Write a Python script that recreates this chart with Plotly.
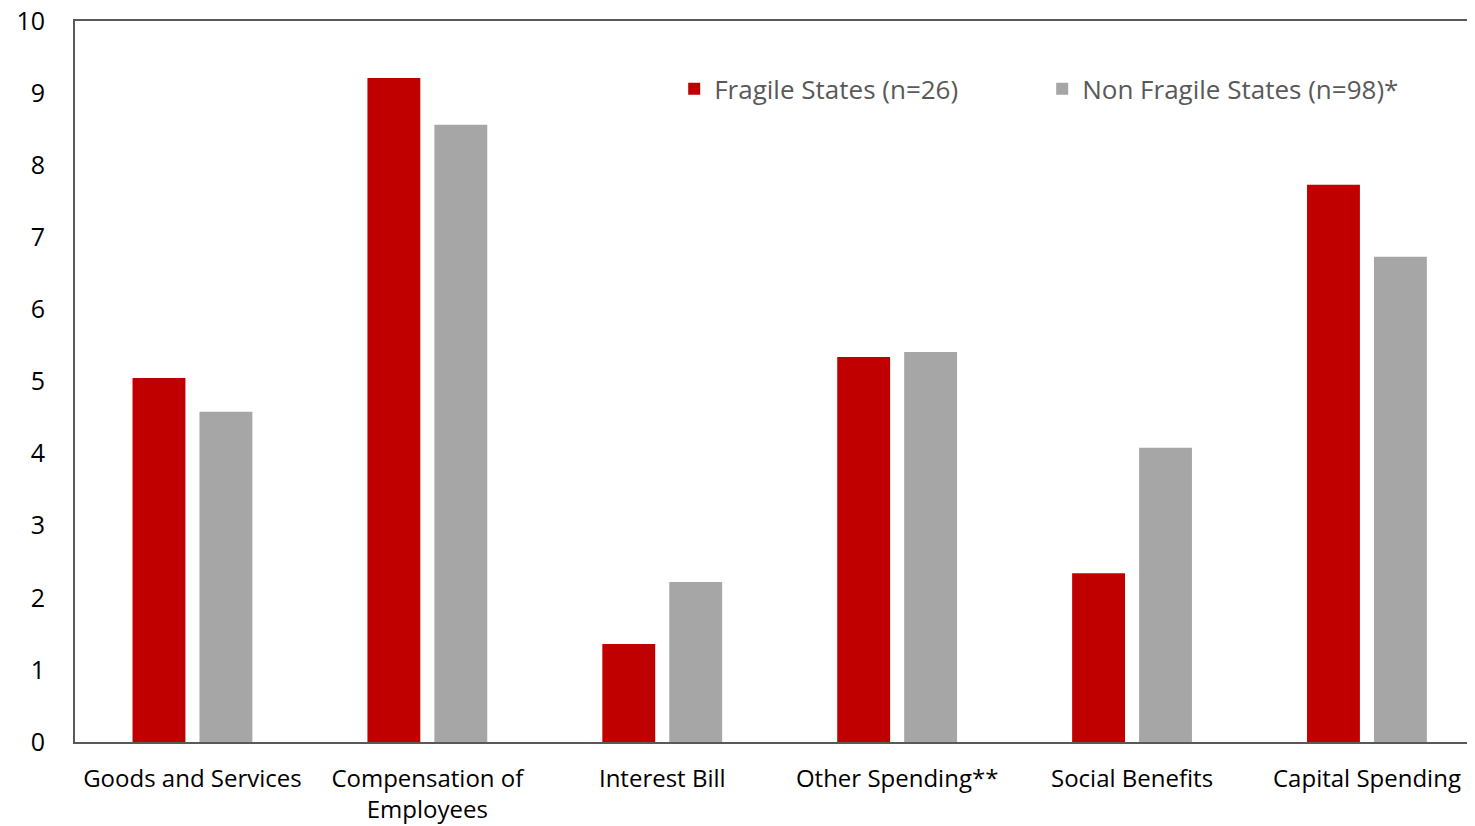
import plotly.graph_objects as go

categories = ["Goods and Services", "Compensation of<br>Employees", "Interest Bill",
              "Other Spending**", "Social Benefits", "Capital Spending"]
fragile = [5.05, 9.21, 1.36, 5.34, 2.34, 7.73]
non_fragile = [4.58, 8.56, 2.22, 5.41, 4.08, 6.73]
y_ticks = list(range(0, 11))

FONT = "Open Sans"

fig = go.Figure()
fig.add_trace(go.Bar(x=categories, y=fragile, name="Fragile States (n=26)",
                     marker=dict(color="#C00000", line=dict(width=0))))
fig.add_trace(go.Bar(x=categories, y=non_fragile, name="Non Fragile States (n=98)*",
                     marker=dict(color="#A6A6A6", line=dict(width=0))))

fig.update_layout(
    width=1467, height=818,
    margin=dict(l=67, r=0, t=13, b=84, autoexpand=False),
    plot_bgcolor="white", paper_bgcolor="white",
    barmode="group", bargap=0.43, bargroupgap=0.21,
    font=dict(family=FONT, size=24, color="black"),
    showlegend=True,
    legend=dict(orientation="h", x=0.428, xanchor="left", y=0.906, yanchor="middle",
                font=dict(family=FONT, size=26, color="#595959"),
                entrywidth=323, entrywidthmode="pixels",
                bgcolor="rgba(0,0,0,0)", itemclick=False),
)
fig.update_xaxes(
    range=[-0.5, 5.46], showline=True, linecolor="#595959", linewidth=2, mirror=True,
    showgrid=False, ticks="", tickfont=dict(family=FONT, size=24, color="black"),
    ticklabelstandoff=14, automargin=False,
)
fig.update_yaxes(
    range=[0, 10], tickvals=y_ticks, showline=True, linecolor="#595959", linewidth=2,
    showgrid=False, zeroline=False, ticks="", tickfont=dict(family=FONT, size=25, color="black"),
    ticklabelstandoff=23, ticklabeloverflow="allow", automargin=False,
)

fig.write_html("out.html")
